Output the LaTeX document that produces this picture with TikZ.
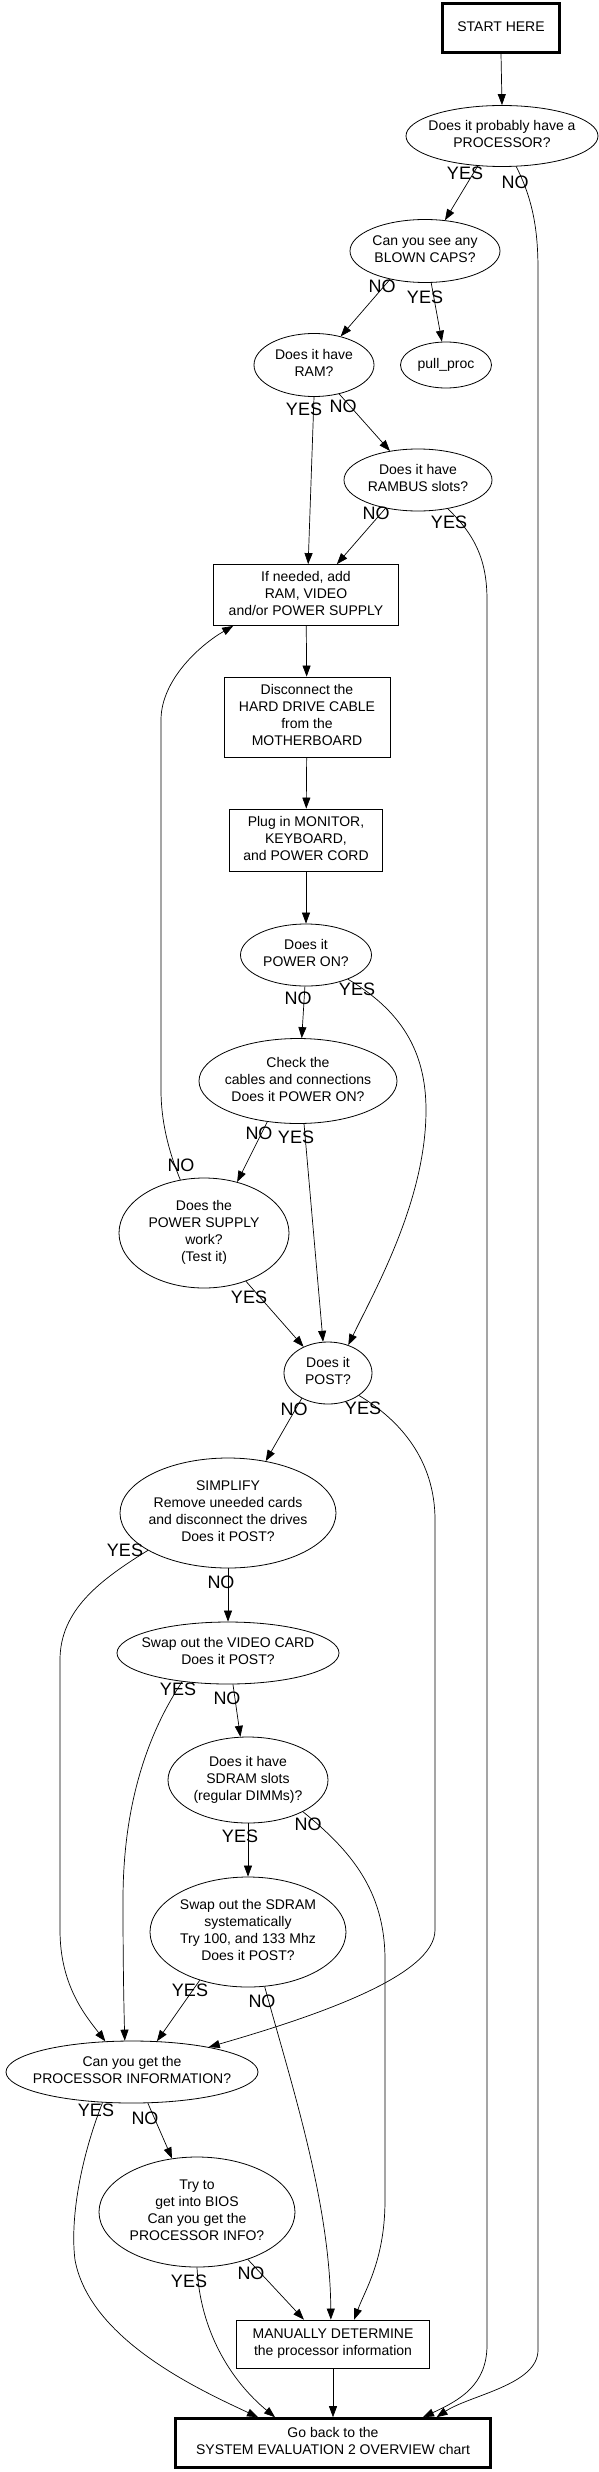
\documentclass[tikz,border=0pt]{standalone}
\usepackage{fontspec}
\setmainfont{Liberation Sans}
\usetikzlibrary{shapes.geometric,arrows.meta}
\newcommand{\nodefont}{\fontsize{14}{17}\selectfont}
\newcommand{\labfont}{\fontsize{18}{20}\selectfont}
\newcommand{\mlines}[1]{\makebox[0pt]{\begin{tabular}{@{}c@{}}#1\end{tabular}}}
\tikzset{
  base/.style={draw, line width=0.8pt, inner sep=0pt, font=\nodefont},
  oval/.style={base, ellipse},
  boxr/.style={base, rectangle},
  thickbox/.style={boxr, line width=2.6pt},
  lab/.style={font=\labfont, inner sep=0pt},
  conn/.style={draw, line width=0.7pt, -{Triangle[length=11pt,width=8pt]}},
}
\begin{document}
\begin{tikzpicture}[x=1pt,y=-1pt]
\path[fill=white] (0,0) rectangle (599,2472);
\useasboundingbox (0,0) rectangle (599,2472);

% nodes
\node[thickbox, minimum width=117pt, minimum height=49pt] (start) at (501,28) {\mlines{START HERE}};
\node[oval, minimum width=192pt, minimum height=61pt] (proc) at (502,136) {\mlines{Does it probably have a\\PROCESSOR?}};
\node[oval, minimum width=150pt, minimum height=63pt] (caps) at (425,251) {\mlines{Can you see any\\BLOWN CAPS?}};
\node[oval, minimum width=120pt, minimum height=63pt] (ram) at (314,365) {\mlines{Does it have\\RAM?}};
\node[oval, minimum width=91pt, minimum height=46pt] (pull) at (446,365) {\mlines{pull\_proc}};
\node[oval, minimum width=148pt, minimum height=62pt] (rambus) at (418,480) {\mlines{Does it have\\RAMBUS slots?}};
\node[boxr, minimum width=185pt, minimum height=61pt] (ifneed) at (306,595) {\mlines{If needed, add\\RAM, VIDEO\\and/or POWER SUPPLY}};
\node[boxr, minimum width=166pt, minimum height=80pt] (disc) at (307,717) {\mlines{Disconnect the\\HARD DRIVE CABLE\\from the\\MOTHERBOARD}};
\node[boxr, minimum width=153pt, minimum height=62pt] (plug) at (306,840) {\mlines{Plug in MONITOR,\\KEYBOARD,\\and POWER CORD}};
\node[oval, minimum width=131pt, minimum height=62pt] (pwron) at (306,955) {\mlines{Does it\\POWER ON?}};
\node[oval, minimum width=198pt, minimum height=85pt] (check) at (298,1081) {\mlines{Check the\\cables and connections\\Does it POWER ON?}};
\node[oval, minimum width=170pt, minimum height=110pt] (psu) at (204,1233) {\mlines{Does the\\POWER SUPPLY\\work?\\(Test it)}};
\node[oval, minimum width=88pt, minimum height=62pt] (post) at (328,1373) {\mlines{Does it\\POST?}};
\node[oval, minimum width=216pt, minimum height=110pt] (simp) at (228,1513) {\mlines{SIMPLIFY\\Remove uneeded cards\\and disconnect the drives\\Does it POST?}};
\node[oval, minimum width=222pt, minimum height=62pt] (video) at (228,1653) {\mlines{Swap out the VIDEO CARD\\Does it POST?}};
\node[oval, minimum width=160pt, minimum height=86pt] (sdram) at (248,1780) {\mlines{Does it have\\SDRAM slots\\(regular DIMMs)?}};
\node[oval, minimum width=196pt, minimum height=110pt] (swap) at (248,1932) {\mlines{Swap out the SDRAM\\systematically\\Try 100, and 133 Mhz\\Does it POST?}};
\node[oval, minimum width=252pt, minimum height=62pt] (canget) at (132,2072) {\mlines{Can you get the\\PROCESSOR INFORMATION?}};
\node[oval, minimum width=196pt, minimum height=110pt] (bios) at (197,2212) {\mlines{Try to\\get into BIOS\\Can you get the\\PROCESSOR INFO?}};
\node[boxr, minimum width=193pt, minimum height=48pt] (manual) at (333,2344) {\mlines{MANUALLY DETERMINE\\the processor information}};
\node[thickbox, minimum width=315pt, minimum height=49pt] (goback) at (333,2443) {\mlines{Go back to the\\SYSTEM EVALUATION 2 OVERVIEW chart}};

% connectors
\draw[conn] (start.south) -- (proc.north);
\draw[conn] (proc.231) -- (caps.57);
\draw[conn] (proc.295) .. controls (533,200) and (538,230) .. (538,270) -- (538,2350) .. controls (538,2385) and (470,2395) .. (goback.14);
\draw[conn] (caps.219) -- (ram.47);
\draw[conn] (caps.281) -- (pull.100);
\draw[conn] (ram.south) -- (ifneed.86);
\draw[conn] (ram.311) -- (rambus.134);
\draw[conn] (rambus.221) -- (ifneed.45);
\draw[conn] (rambus.316) .. controls (475,535) and (487,560) .. (487,600) -- (487,2345) .. controls (487,2385) and (460,2400) .. (goback.16);
\draw[conn] (ifneed) -- (disc);
\draw[conn] (disc) -- (plug);
\draw[conn] (plug) -- (pwron);
\draw[conn] (pwron.268) -- (check.85);
\draw[conn] (pwron.330) .. controls (400,1010) and (426,1050) .. (426,1110) .. controls (426,1200) and (375,1290) .. (post.54);
\draw[conn] (check.233) -- (psu.57);
\draw[conn] (check.278) -- (post.99);
\draw[conn] (psu.114) .. controls (168,1150) and (161,1120) .. (161,1090) -- (161,720) .. controls (161,680) and (200,645) .. (ifneed.203);
\draw[conn] (psu.311) -- (post.133);
\draw[conn] (post.224) -- (simp.54);
\draw[conn] (post.324) .. controls (400,1420) and (435,1460) .. (435,1520) -- (435,1930) .. controls (435,1975) and (320,2015) .. (canget.18);
\draw[conn] (simp) -- (video);
\draw[conn] (simp.205) .. controls (100,1580) and (60,1610) .. (60,1660) -- (60,1930) .. controls (60,1985) and (85,2015) .. (canget.131);
\draw[conn] (video.279) -- (sdram.100);
\draw[conn] (video.212) .. controls (150,1730) and (123,1800) .. (123,1900) .. controls (123,1970) and (124,2010) .. (canget.103);
\draw[conn] (sdram) -- (swap);
\draw[conn] (sdram.330) .. controls (350,1850) and (385,1890) .. (385,1960) -- (385,2200) .. controls (385,2260) and (365,2290) .. (manual.49);
\draw[conn] (swap.225) -- (canget.51);
\draw[conn] (swap.287) .. controls (290,2080) and (330,2200) .. (manual.95);
\draw[conn] (canget.297) -- (bios.115);
\draw[conn] (canget.226) .. controls (80,2160) and (70,2220) .. (75,2260) .. controls (90,2340) and (200,2390) .. (goback.161);
\draw[conn] (bios.317) -- (manual.140);
\draw[conn] (bios.south) .. controls (200,2330) and (230,2380) .. (goback.156);
\draw[conn] (manual) -- (goback);

% labels
\node[lab] (l1) at (465,173) {YES};
\node[lab] (l2) at (515,182) {NO};
\node[lab] (l3) at (382,286) {NO};
\node[lab] (l4) at (425,297) {YES};
\node[lab] (l5) at (304,409) {YES};
\node[lab] (l6) at (343,406) {NO};
\node[lab] (l7) at (376,513) {NO};
\node[lab] (l8) at (449,522) {YES};
\node[lab] (l9) at (298,998) {NO};
\node[lab] (l10) at (357,989) {YES};
\node[lab] (l11) at (259,1133) {NO};
\node[lab] (l12) at (296,1137) {YES};
\node[lab] (l13) at (181,1165) {NO};
\node[lab] (l14) at (249,1297) {YES};
\node[lab] (l15) at (294,1409) {NO};
\node[lab] (l16) at (363,1408) {YES};
\node[lab] (l17) at (125,1550) {YES};
\node[lab] (l18) at (221,1582) {NO};
\node[lab] (l19) at (178,1689) {YES};
\node[lab] (l20) at (227,1698) {NO};
\node[lab] (l21) at (240,1836) {YES};
\node[lab] (l22) at (308,1824) {NO};
\node[lab] (l23) at (190,1990) {YES};
\node[lab] (l24) at (262,2001) {NO};
\node[lab] (l25) at (96,2110) {YES};
\node[lab] (l26) at (145,2118) {NO};
\node[lab] (l27) at (251,2273) {NO};
\node[lab] (l28) at (189,2281) {YES};
\end{tikzpicture}
\end{document}
